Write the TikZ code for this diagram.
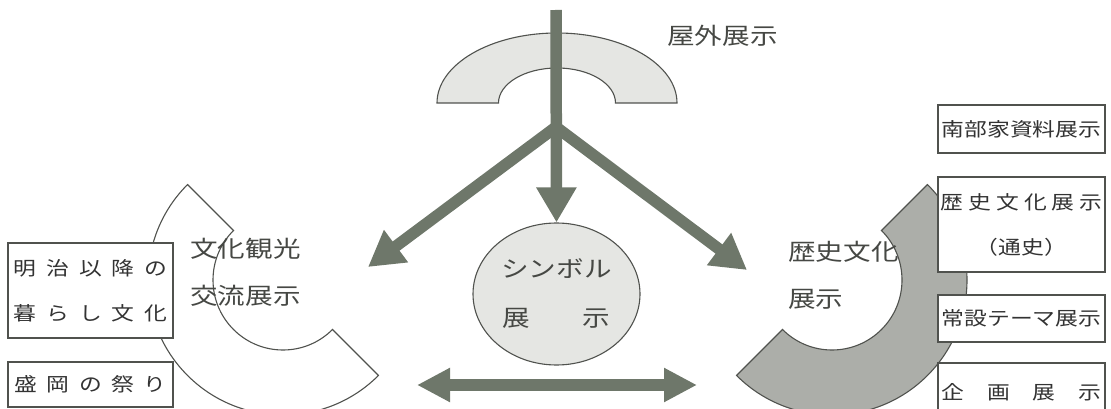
\documentclass[tikz,border=0pt]{standalone}
\usepackage{fontspec}
\newfontfamily\cjk[FakeStretch=1.2]{Noto Sans CJK JP}
\usetikzlibrary{arrows.meta,shapes.geometric}
\definecolor{arrowc}{RGB}{110,119,106}
\definecolor{lightf}{RGB}{229,230,227}
\definecolor{midf}{RGB}{172,174,169}
\definecolor{edgec}{RGB}{80,82,78}
\definecolor{txtc}{RGB}{70,72,68}
\begin{document}
\begin{tikzpicture}[x=1pt,y=-1pt,
  shapeline/.style={draw=edgec,line width=1.1pt},
  bigarrow/.style={draw=arrowc,line width=11.5pt,-{Triangle[length=35pt,width=38pt]}},
  lab/.style={font=\cjk\fontsize{23}{47}\selectfont,text=txtc,inner sep=0pt,align=left},
  boxt/.style={draw=edgec,line width=1.1pt,fill=white,align=center,
    font=\cjk\fontsize{19}{45}\selectfont,text=black!80,inner sep=0pt},
  lbox/.style={boxt,minimum width=165pt},
  rbox/.style={boxt,minimum width=167pt},
]
\useasboundingbox (0,0) rectangle (1111,409);

% right C (history/culture)
\path[shapeline, fill=midf] ([shift={(832,280)}]-45:135) arc[start angle=-45,end angle=135,radius=135]
  -- ([shift={(832,280)}]135:70) arc[start angle=135,end angle=-45,radius=70] -- cycle;
% left C (culture/tourism)
\path[shapeline, fill=white] ([shift={(283,280)}]225:135) arc[start angle=225,end angle=45,radius=135]
  -- ([shift={(283,280)}]45:70) arc[start angle=45,end angle=225,radius=70] -- cycle;
% top arch (outdoor)
\path[shapeline, fill=lightf] (437,103) arc[start angle=180,end angle=360,x radius=120,y radius=70]
  -- (615.5,103) arc[start angle=0,end angle=-180,x radius=58.5,y radius=35] -- cycle;

% central ellipse
\node[ellipse, shapeline, fill=lightf, minimum width=167pt, minimum height=142pt, inner sep=0pt,
  font=\cjk\fontsize{23}{49}\selectfont, text=txtc, align=center] (sym) at (556.5,294)
  {シンボル\\\hbox to 108pt{展\hfil 示}};

% arrows
\coordinate (top) at (556,10);
\coordinate (branch) at (556,127);
\coordinate (ltip) at (368,267);
\coordinate (rtip) at (747,270);
\coordinate (dl) at (417,385);
\coordinate (dr) at (697,385);
\draw[bigarrow] (branch) -- (ltip);
\draw[bigarrow] (branch) -- (rtip);
\draw[bigarrow] (top) -- (sym.north);
\draw[draw=arrowc,line width=11.5pt,{Triangle[length=33pt,width=32pt]}-{Triangle[length=33pt,width=32pt]}] (dl) -- (dr);

% labels
\node[lab, anchor=west] (oku) at (667,36) {屋外展示};
\node[lab, anchor=west] (bunka) at (190,272) {文化観光\\交流展示};
\node[lab, anchor=west] (rekishi) at (788,275) {歴史文化\\展示};

% left boxes
\node[lbox, minimum height=95pt] (meiji) at (90.5,290.5)
  {\hbox to 154pt{明\hfil 治\hfil 以\hfil 降\hfil の}\\\hbox to 154pt{暮\hfil ら\hfil し\hfil 文\hfil 化}};
\node[lbox, minimum height=45pt] (matsuri) at (90.5,384.5)
  {\hbox to 152pt{盛\hfil 岡\hfil の\hfil 祭\hfil り}};

% right boxes
\node[rbox, minimum height=48pt] (nanbu) at (1021.5,129) {南部家資料展示};
\node[rbox, minimum height=95pt] (tsushi) at (1021.5,224.5)
  {\hbox to 162pt{歴\hfil 史\hfil 文\hfil 化\hfil 展\hfil 示}\\（通史）};
\node[rbox, minimum height=47pt] (joset) at (1021.5,318.5) {常設テーマ展示};
\node[rbox, minimum height=58pt] (kikaku) at (1021.5,392)
  {\hbox to 160pt{企\hfil 画\hfil 展\hfil 示}};
\end{tikzpicture}
\end{document}
